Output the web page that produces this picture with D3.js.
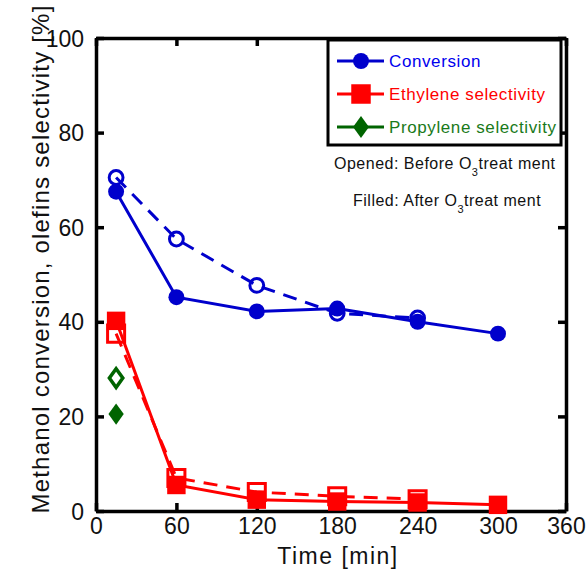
<!DOCTYPE html>
<html>
<head>
<meta charset="utf-8">
<script src="https://cdn.jsdelivr.net/npm/d3@7"></script>
<style>
  body { margin: 0; background: #fff; }
  text { font-family: "Liberation Sans", Arial, sans-serif; }
</style>
</head>
<body>
<div id="chart"></div>
<script>
// datos
var timesAfter = [15, 60, 120, 180, 240, 300];
var timesBefore = [15, 60, 120, 180, 240];
var convAfter = [67.5, 45.2, 42.2, 42.8, 40.0, 37.5];
var convBefore = [70.5, 57.5, 47.7, 41.8, 40.8];
var ethAfter = [40.2, 5.5, 2.4, 2.0, 1.8, 1.3];
var ethBefore = [37.5, 7.0, 4.0, 3.1, 2.5];
var propTimes = [15];
var propAfter = [20.5];
var propBefore = [28.1];
var xTicks = [0, 60, 120, 180, 240, 300, 360];
var yTicks = [0, 20, 40, 60, 80, 100];

var width = 587, height = 570;
var mLeft = 96, mRight = 566, mTop = 38, mBottom = 511;

var svg = d3.select("#chart").append("svg")
  .attr("width", width)
  .attr("height", height);

// el eje x original no es del todo lineal al final
var x = d3.scaleLinear().domain([0, 300, 360]).range([mLeft, 498, mRight]);
var y = d3.scaleLinear().domain([0, 100]).range([mBottom, mTop]);

var blue = "#0000cc", red = "#ff0000", green = "#006400";

// marco y ticks hacia adentro
var axB = svg.append("g").attr("transform", "translate(0," + mBottom + ")")
  .call(d3.axisBottom(x).tickValues(xTicks).tickSizeInner(-8).tickSizeOuter(0).tickPadding(7));
var axT = svg.append("g").attr("transform", "translate(0," + mTop + ")")
  .call(d3.axisTop(x).tickValues(xTicks).tickSizeInner(-8).tickSizeOuter(0).tickFormat(""));
var axL = svg.append("g").attr("transform", "translate(" + mLeft + ",0)")
  .call(d3.axisLeft(y).tickValues(yTicks).tickSizeInner(-8).tickSizeOuter(0).tickPadding(12));
var axR = svg.append("g").attr("transform", "translate(" + mRight + ",0)")
  .call(d3.axisRight(y).tickValues(yTicks).tickSizeInner(-8).tickSizeOuter(0).tickFormat(""));

[axB, axT, axL, axR].forEach(function(a) {
  a.select(".domain").attr("stroke", "#000").attr("stroke-width", 3.5);
  a.selectAll(".tick line").attr("stroke", "#000").attr("stroke-width", 3.5);
  a.selectAll(".tick text").attr("fill", "#111").style("font-size", "23px")
    .style("font-family", "'Liberation Sans', Arial, sans-serif");
});
axL.selectAll(".tick text").attr("dy", "0.35em");

// títulos de ejes
svg.append("text")
  .attr("transform", "translate(49,259) rotate(-90)")
  .attr("text-anchor", "middle")
  .style("font-size", "24px")
  .style("letter-spacing", "1.2px")
  .attr("fill", "#111")
  .text("Methanol conversion, olefins selectivity [%]");

svg.append("text")
  .attr("x", 338).attr("y", 564)
  .attr("text-anchor", "middle")
  .style("font-size", "23px")
  .style("letter-spacing", "1.5px")
  .attr("fill", "#111")
  .text("Time [min]");

var line = d3.line()
  .x(function(d) { return x(d[0]); })
  .y(function(d) { return y(d[1]); });

function pairs(t, v) { return t.map(function(d, i) { return [d, v[i]]; }); }

function drawSeries(t, v, color, dashed, shape, filled) {
  var data = pairs(t, v);
  if (t.length > 1) {
    svg.append("path")
      .datum(data)
      .attr("fill", "none")
      .attr("stroke", color)
      .attr("stroke-width", 3)
      .attr("stroke-dasharray", dashed ? "14,9" : null)
      .attr("d", line);
  }
  var sym, size;
  if (shape === "circle") { sym = d3.symbolCircle; size = filled ? 200 : 150; }
  else if (shape === "square") { sym = d3.symbolSquare; size = filled ? 340 : 290; }
  else { sym = d3.symbolDiamond; size = filled ? 130 : 100; }
  svg.append("g").selectAll("path")
    .data(data)
    .enter().append("path")
    .attr("transform", function(d) { return "translate(" + x(d[0]) + "," + y(d[1]) + ")" + (shape === "diamond" ? " scale(1.25,1)" : ""); })
    .attr("d", d3.symbol().type(sym).size(size))
    .attr("fill", filled ? color : "none")
    .attr("stroke", color)
    .attr("stroke-width", filled ? 0 : 3);
}

// primero los abiertos (antes), luego los llenos (después)
drawSeries(timesBefore, convBefore, blue, true, "circle", false);
drawSeries(timesBefore, ethBefore, red, true, "square", false);
drawSeries(propTimes, propBefore, green, true, "diamond", false);
drawSeries(timesAfter, convAfter, blue, false, "circle", true);
drawSeries(timesAfter, ethAfter, red, false, "square", true);
drawSeries(propTimes, propAfter, green, false, "diamond", true);

// leyenda
var lg = svg.append("g");
lg.append("rect")
  .attr("x", 328).attr("y", 40)
  .attr("width", 233).attr("height", 105)
  .attr("fill", "#fff")
  .attr("stroke", "#000").attr("stroke-width", 3);

var legendItems = [
  { name: "Conversion", color: "#0000ee", line: blue, shape: d3.symbolCircle, size: 200 },
  { name: "Ethylene selectivity", color: "#ff0000", line: red, shape: d3.symbolSquare, size: 380 },
  { name: "Propylene selectivity", color: "#1a7a1a", line: green, shape: d3.symbolDiamond, size: 140 }
];
legendItems.forEach(function(d, i) {
  var yy = 61 + i * 33;
  lg.append("line")
    .attr("x1", 337).attr("x2", 384)
    .attr("y1", yy).attr("y2", yy)
    .attr("stroke", d.line).attr("stroke-width", 3);
  lg.append("path")
    .attr("transform", "translate(361," + yy + ")" + (i === 2 ? " scale(1.25,1)" : ""))
    .attr("d", d3.symbol().type(d.shape).size(d.size))
    .attr("fill", d.line);
  lg.append("text")
    .attr("x", 389).attr("y", yy + 6)
    .style("font-size", "17px")
    .style("letter-spacing", "0.6px")
    .attr("fill", d.color)
    .text(d.name);
});

// notas
function note(xx, yy, pre) {
  var t = svg.append("text")
    .attr("x", xx).attr("y", yy)
    .style("font-size", "16px")
    .style("letter-spacing", "0.5px")
    .attr("fill", "#111");
  t.append("tspan").text(pre + " O");
  t.append("tspan").attr("dy", 7).style("font-size", "11px").text("3");
  t.append("tspan").attr("dy", -7).text("treat ment");
}
note(334, 169, "Opened: Before");
note(353, 206, "Filled: After");
</script>
</body>
</html>
